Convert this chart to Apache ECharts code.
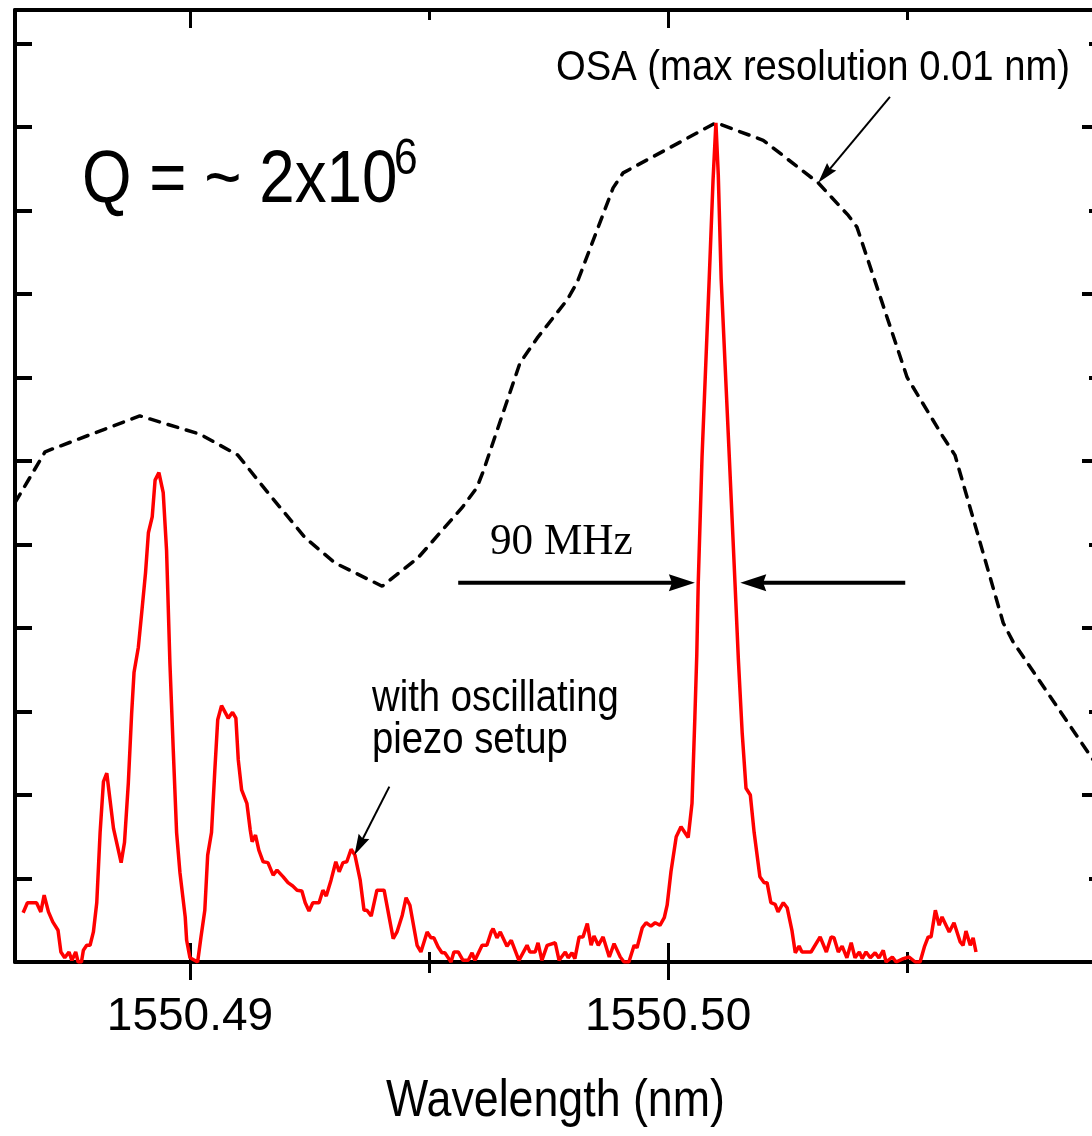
<!DOCTYPE html>
<html>
<head>
<meta charset="utf-8">
<title>Wavelength scan</title>
<script src="https://cdn.jsdelivr.net/npm/echarts@6/dist/echarts.min.js"></script>
<style>
html, body { margin: 0; padding: 0; background: #fff; }
#main { width: 1092px; height: 1136px; }
</style>
</head>
<body>
<div id="main"></div>
<script>
// OSA trace (dashed), wavelength in nm / intensity in a.u.
var osaWl = [1550.48634, 1550.48697, 1550.48895, 1550.49021, 1550.49100, 1550.49163, 1550.49241, 1550.49303, 1550.49402, 1550.49477,
	1550.49569, 1550.49600, 1550.49613, 1550.49690, 1550.49726, 1550.49789, 1550.49810, 1550.49885, 1550.49906, 1550.50100,
	1550.50199, 1550.50314, 1550.50377, 1550.50395, 1550.50500, 1550.50575, 1550.50600, 1550.50701, 1550.50722, 1550.50895];
var osaVal = [5.50, 6.11, 6.54, 6.32, 6.07, 5.62, 5.08, 4.78, 4.50, 4.84,
	5.44, 5.68, 5.87, 7.17, 7.47, 7.93, 8.14, 9.27, 9.45, 10.05,
	9.84, 9.33, 8.94, 8.80, 7.00, 6.29, 6.07, 4.06, 3.83, 2.37];

// oscillating piezo trace (red)
var piezoWl = [1550.48651, 1550.48660, 1550.48679, 1550.48688, 1550.48695, 1550.48704, 1550.48713, 1550.48724, 1550.48730, 1550.48738,
	1550.48747, 1550.48753, 1550.48761, 1550.48766, 1550.48773, 1550.48777, 1550.48784, 1550.48791, 1550.48798, 1550.48805,
	1550.48812, 1550.48819, 1550.48826, 1550.48840, 1550.48856, 1550.48863, 1550.48871, 1550.48878, 1550.48883, 1550.48892,
	1550.48899, 1550.48907, 1550.48913, 1550.48921, 1550.48927, 1550.48935, 1550.48944, 1550.48951, 1550.48958, 1550.48965,
	1550.48972, 1550.48979, 1550.48990, 1550.48993, 1550.49000, 1550.49016, 1550.49023, 1550.49031, 1550.49037, 1550.49045,
	1550.49052, 1550.49058, 1550.49066, 1550.49080, 1550.49089, 1550.49096, 1550.49101, 1550.49108, 1550.49119, 1550.49126,
	1550.49130, 1550.49137, 1550.49144, 1550.49153, 1550.49163, 1550.49174, 1550.49182, 1550.49195, 1550.49205, 1550.49215,
	1550.49224, 1550.49234, 1550.49241, 1550.49249, 1550.49257, 1550.49270, 1550.49278, 1550.49285, 1550.49295, 1550.49305,
	1550.49312, 1550.49320, 1550.49328, 1550.49337, 1550.49345, 1550.49356, 1550.49364, 1550.49370, 1550.49379, 1550.49391,
	1550.49406, 1550.49425, 1550.49433, 1550.49444, 1550.49452, 1550.49460, 1550.49475, 1550.49483, 1550.49496, 1550.49504,
	1550.49510, 1550.49519, 1550.49527, 1550.49533, 1550.49546, 1550.49552, 1550.49561, 1550.49571, 1550.49582, 1550.49590,
	1550.49596, 1550.49611, 1550.49621, 1550.49630, 1550.49634, 1550.49642, 1550.49649, 1550.49663, 1550.49672, 1550.49688,
	1550.49705, 1550.49711, 1550.49722, 1550.49728, 1550.49736, 1550.49747, 1550.49764, 1550.49772, 1550.49785, 1550.49791,
	1550.49799, 1550.49805, 1550.49814, 1550.49822, 1550.49831, 1550.49839, 1550.49845, 1550.49854, 1550.49864, 1550.49877,
	1550.49887, 1550.49900, 1550.49908, 1550.49918, 1550.49929, 1550.49935, 1550.49946, 1550.49954, 1550.49964, 1550.49973,
	1550.49983, 1550.49992, 1550.49998, 1550.50006, 1550.50017, 1550.50027, 1550.50042, 1550.50050, 1550.50056, 1550.50060,
	1550.50063, 1550.50071, 1550.50086, 1550.50094, 1550.50100, 1550.50105, 1550.50111, 1550.50128, 1550.50140, 1550.50147,
	1550.50155, 1550.50163, 1550.50172, 1550.50180, 1550.50192, 1550.50201, 1550.50207, 1550.50215, 1550.50224, 1550.50230,
	1550.50241, 1550.50249, 1550.50259, 1550.50266, 1550.50274, 1550.50280, 1550.50299, 1550.50318, 1550.50331, 1550.50341,
	1550.50347, 1550.50356, 1550.50364, 1550.50374, 1550.50383, 1550.50391, 1550.50400, 1550.50406, 1550.50414, 1550.50423,
	1550.50433, 1550.50441, 1550.50450, 1550.50456, 1550.50469, 1550.50477, 1550.50492, 1550.50504, 1550.50517, 1550.50527,
	1550.50536, 1550.50544, 1550.50550, 1550.50559, 1550.50567, 1550.50573, 1550.50588, 1550.50598, 1550.50611, 1550.50617,
	1550.50623, 1550.50632, 1550.50638, 1550.50644];
var piezoVal = [0.59, 0.71, 0.71, 0.60, 0.80, 0.60, 0.48, 0.38, 0.12, 0.05,
	0.12, 0.02, 0.12, 0, 0, 0.14, 0.20, 0.20, 0.36, 0.71,
	1.55, 2.16, 2.26, 1.60, 1.19, 1.43, 2.14, 2.98, 3.47, 3.77,
	4.18, 4.66, 5.14, 5.33, 5.77, 5.86, 5.62, 4.93, 3.58, 2.54,
	1.55, 1.07, 0.54, 0.26, 0.05, 0, 0.30, 0.62, 1.28, 1.55,
	2.30, 2.90, 3.07, 2.92, 2.99, 2.92, 2.42, 2.06, 1.90, 1.58,
	1.44, 1.52, 1.34, 1.20, 1.19, 1.04, 1.10, 1.02, 0.95, 0.91,
	0.86, 0.85, 0.71, 0.61, 0.71, 0.71, 0.86, 0.79, 0.98, 1.20,
	1.08, 1.19, 1.20, 1.35, 1.28, 0.98, 0.62, 0.62, 0.55, 0.86,
	0.86, 0.28, 0.36, 0.56, 0.77, 0.68, 0.20, 0.12, 0.36, 0.29,
	0.29, 0.18, 0.11, 0.11, 0, 0.12, 0.12, 0.02, 0.02, 0.11,
	0.02, 0.20, 0.20, 0.36, 0.40, 0.29, 0.36, 0.19, 0.26, 0.02,
	0.20, 0.12, 0.12, 0.23, 0.02, 0.20, 0.23, 0.02, 0.12, 0.05,
	0.11, 0.04, 0.30, 0.30, 0.46, 0.20, 0.31, 0.20, 0.30, 0.06,
	0.22, 0.06, 0, 0, 0.20, 0.17, 0.41, 0.47, 0.43, 0.47,
	0.44, 0.53, 0.68, 1.08, 1.50, 1.62, 1.49, 1.90, 2.93, 3.68,
	4.53, 6.05, 8.18, 9.36, 10.05, 9.42, 8.18, 6.05, 4.53, 3.62,
	2.74, 2.08, 2.00, 1.55, 1.02, 0.95, 0.95, 0.71, 0.69, 0.60,
	0.71, 0.65, 0.38, 0.11, 0.19, 0.12, 0.12, 0.30, 0.12, 0.30,
	0.29, 0.12, 0.19, 0.05, 0.23, 0.05, 0.12, 0.04, 0.12, 0.05,
	0.11, 0.05, 0.14, 0, 0.06, 0, 0.04, 0.06, 0, 0,
	0.18, 0.30, 0.30, 0.62, 0.44, 0.54, 0.36, 0.47, 0.24, 0.20,
	0.37, 0.20, 0.29, 0.12];

// axis ticks and labels
var majorTicks = [1550.49, 1550.50];
var minorTicks = [1550.495, 1550.505];
var xMin = 1550.48634, xMax = 1550.50895;
var yMax = 11.4;

// annotation arrows: start wl, start y, tip wl, tip y
var arrows = [
	{ from: [1550.50464, 10.36], to: [1550.50314, 9.33], thick: false },
	{ from: [1550.49417, 2.10], to: [1550.49344, 1.28], thick: false },
	{ from: [1550.49561, 4.54], to: [1550.50056, 4.54], thick: true },
	{ from: [1550.50496, 4.54], to: [1550.50151, 4.54], thick: true }
];

var sans = "'Liberation Sans', Arial, sans-serif";
var serif = "'Liberation Serif', 'Times New Roman', serif";

function pairs(xs, ys) {
	return xs.map(function (x, i) { return [x, ys[i]]; });
}

// one x axis per tick group, so ticks can cross the frame line
function xTickAxis(position, values, len, inside, showLine) {
	return {
		type: 'value',
		position: position,
		min: xMin,
		max: xMax,
		axisLine: { show: showLine, onZero: false, lineStyle: { color: '#000', width: 4 } },
		axisTick: { show: true, inside: inside, length: len, customValues: values, lineStyle: { color: '#000', width: 3 } },
		axisLabel: { show: false },
		splitLine: { show: false }
	};
}

var labelAxis = xTickAxis('bottom', majorTicks, 18, false, false);
labelAxis.axisLabel = {
	show: true,
	customValues: majorTicks,
	margin: 32,
	fontSize: 46,
	fontFamily: sans,
	color: '#000',
	formatter: function (v) { return v.toFixed(2); }
};

var chart = echarts.init(document.getElementById('main'));

var option = {
	animation: false,
	backgroundColor: '#fff',
	grid: { left: 15, right: -4, top: 10, bottom: 174, containLabel: false, outerBoundsMode: 'none' },
	xAxis: [
		xTickAxis('bottom', majorTicks, 19, true, true),
		labelAxis,
		xTickAxis('bottom', minorTicks, 10, true, false),
		xTickAxis('bottom', minorTicks, 11, false, false),
		xTickAxis('top', majorTicks, 18, true, true),
		xTickAxis('top', minorTicks, 10, true, false)
	],
	yAxis: [
		{
			type: 'value', position: 'left', min: 0, max: yMax, interval: 1,
			axisLine: { show: true, onZero: false, lineStyle: { color: '#000', width: 4 } },
			axisTick: { inside: true, length: 17, lineStyle: { color: '#000', width: 4 } },
			axisLabel: { show: false },
			splitLine: { show: false }
		},
		{
			type: 'value', position: 'right', min: 0, max: yMax, interval: 2,
			axisLine: { show: true, onZero: false, lineStyle: { color: '#000', width: 4 } },
			axisTick: { inside: true, length: 14, lineStyle: { color: '#000', width: 4 } },
			axisLabel: { show: false },
			splitLine: { show: false }
		},
		{
			type: 'value', position: 'right', min: 0, max: yMax,
			axisLine: { show: false },
			axisTick: { inside: true, length: 7, customValues: [1, 3, 5, 7, 9, 11], lineStyle: { color: '#000', width: 4 } },
			axisLabel: { show: false },
			splitLine: { show: false }
		}
	],
	series: [
		{
			name: 'OSA',
			type: 'line',
			data: pairs(osaWl, osaVal),
			symbol: 'none',
			lineStyle: { color: '#000', width: 3.5, type: [10, 9], cap: 'round' },
			z: 2
		},
		{
			name: 'piezo',
			type: 'line',
			data: pairs(piezoWl, piezoVal),
			symbol: 'none',
			lineStyle: { color: '#ff0000', width: 3.5 },
			z: 3
		}
	]
};
chart.setOption(option);

// 注释文字和箭头
function txt(s, x, y, size, family, sx) {
	return {
		type: 'text', x: x, y: y, scaleX: sx, z: 10,
		style: { text: s, fontSize: size, fontFamily: family, fill: '#000', align: 'left', verticalAlign: 'middle' }
	};
}

var elements = [
	txt('Q = ~ 2x10', 82, 181, 75, sans, 0.85),
	txt('6', 394, 160, 50, sans, 0.85),
	txt('OSA (max resolution 0.01 nm)', 556, 68, 42, sans, 0.91),
	txt('90 MHz', 490, 542, 44, serif, 0.98),
	txt('with oscillating', 372, 699, 44, sans, 0.87),
	txt('piezo setup', 372, 741, 44, sans, 0.87),
	txt('Wavelength (nm)', 386, 1102, 52, sans, 0.86)
];

arrows.forEach(function (a) {
	var p0 = chart.convertToPixel({ xAxisIndex: 0, yAxisIndex: 0 }, a.from);
	var p1 = chart.convertToPixel({ xAxisIndex: 0, yAxisIndex: 0 }, a.to);
	var len = a.thick ? 26 : 21, w = a.thick ? 17 : 12;
	var dx = p1[0] - p0[0], dy = p1[1] - p0[1];
	var d = Math.sqrt(dx * dx + dy * dy);
	var ux = dx / d, uy = dy / d, nx = -uy, ny = ux;
	var bx = p1[0] - ux * len, by = p1[1] - uy * len;
	elements.push({
		type: 'line', z: 10,
		shape: { x1: p0[0], y1: p0[1], x2: bx + ux * 4, y2: by + uy * 4 },
		style: { stroke: '#000', lineWidth: a.thick ? 4 : 2 }
	});
	elements.push({
		type: 'polygon', z: 10,
		shape: { points: [
			[p1[0], p1[1]],
			[bx + nx * w / 2, by + ny * w / 2],
			[bx + ux * len * 0.12, by + uy * len * 0.12],
			[bx - nx * w / 2, by - ny * w / 2]
		] },
		style: { fill: '#000' }
	});
});

chart.setOption({ graphic: elements });
</script>
</body>
</html>
